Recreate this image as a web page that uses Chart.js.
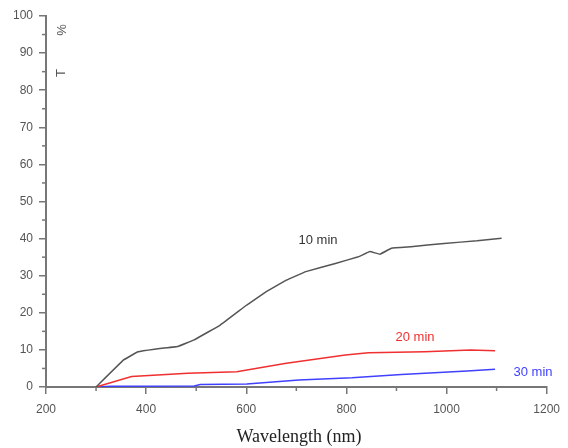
<!DOCTYPE html>
<html><head><meta charset="utf-8">
<script src="https://cdn.jsdelivr.net/npm/chart.js@4/dist/chart.umd.min.js"></script>
<style>html,body{margin:0;padding:0;background:#fff}#wrap{width:568px;height:448px}</style>
</head><body><div id="wrap"><canvas id="c" width="568" height="448"></canvas></div>
<script>
const wl10 = [300,355,384,417,463,496,548,601,640,680,719,778,824,847,867,890,929,995,1061,1110];
const t10  = [0,7.3,9.5,10.2,10.9,12.7,16.7,22.1,25.7,28.8,31.1,33.3,35.1,36.5,35.8,37.4,37.8,38.7,39.4,40.1];
const wl20 = [300,371,483,581,680,798,844,956,1048,1097];
const t20  = [0,2.8,3.7,4.1,6.4,8.6,9.2,9.5,10.0,9.8];
const wl30 = [300,330,496,508,601,705,811,910,1041,1097];
const t30  = [0,0.2,0.3,0.7,0.8,1.9,2.5,3.4,4.3,4.8];
const seriesLabels = ['10 min','20 min','30 min'];
const xTitle = 'Wavelength (nm)';
const yTitle = 'T';
const yUnit = '%';

const pts = (xs, ys) => xs.map((x,i)=>({x, y: ys[i]}));
const axisColor = '#777';

const deco = {
  id:'deco',
  afterDraw(chart){
    const {ctx, scales:{x,y}} = chart;
    ctx.save();
    ctx.strokeStyle = axisColor; ctx.lineWidth = 1.5;
    for(let v=300; v<1200; v+=200){
      const px = x.getPixelForValue(v);
      ctx.beginPath(); ctx.moveTo(px, y.bottom); ctx.lineTo(px, y.bottom+4); ctx.stroke();
    }
    for(let v=5; v<100; v+=10){
      const py = y.getPixelForValue(v);
      ctx.beginPath(); ctx.moveTo(x.left, py); ctx.lineTo(x.left-4, py); ctx.stroke();
    }
    ctx.font = '13px "Liberation Sans", Arial, sans-serif';
    ctx.textAlign = 'center'; ctx.textBaseline = 'middle';
    const cols = ['#333','#f03030','#4040ff'];
    const lp = [[318,240],[415,337],[533,372]];
    seriesLabels.forEach((s,i)=>{ ctx.fillStyle = cols[i]; ctx.fillText(s, lp[i][0], lp[i][1]); });
    ctx.font = '18px "Liberation Serif", "Times New Roman", serif';
    ctx.fillStyle = '#222';
    ctx.fillText(xTitle, 299, 437);
    ctx.font = '13px "Liberation Sans", Arial, sans-serif';
    ctx.fillStyle = '#555';
    ctx.save(); ctx.translate(61, 73); ctx.rotate(-Math.PI/2); ctx.fillText(yTitle, 0, 0); ctx.restore();
    ctx.save(); ctx.translate(62, 30); ctx.rotate(-Math.PI/2); ctx.fillText(yUnit, 0, 0); ctx.restore();
    ctx.restore();
  }
};

const tickFont = {family:'"Liberation Sans", Arial, sans-serif', size:12};
new Chart(document.getElementById('c'), {
  type:'line',
  data:{datasets:[
    {label:seriesLabels[0], data:pts(wl10,t10), borderColor:'#555', borderWidth:1.5, pointRadius:0, tension:0.05},
    {label:seriesLabels[1], data:pts(wl20,t20), borderColor:'#f03030', borderWidth:1.5, pointRadius:0, tension:0},
    {label:seriesLabels[2], data:pts(wl30,t30), borderColor:'#4040ff', borderWidth:1.5, pointRadius:0, tension:0}
  ]},
  options:{
    responsive:false, animation:false,
    layout:{padding:{top:16,right:16,bottom:0,left:0}},
    plugins:{legend:{display:false}, tooltip:{enabled:false}},
    scales:{
      x:{type:'linear', min:200, max:1200,
        afterFit(s){ s.height = 61; },
        ticks:{stepSize:200, color:'#555', font:tickFont, padding:8, maxRotation:0, callback:v=>String(v)},
        grid:{drawOnChartArea:false, drawTicks:true, tickLength:7, color:axisColor, lineWidth:1.5},
        border:{color:axisColor, width:2}
      },
      y:{min:0, max:100,
        afterFit(s){ s.width = 46; },
        ticks:{stepSize:10, color:'#555', font:tickFont, padding:6, callback:v=>String(v)},
        grid:{drawOnChartArea:false, drawTicks:true, tickLength:7, color:axisColor, lineWidth:1.5},
        border:{color:axisColor, width:2}
      }
    }
  },
  plugins:[deco]
});
</script>
</body></html>
